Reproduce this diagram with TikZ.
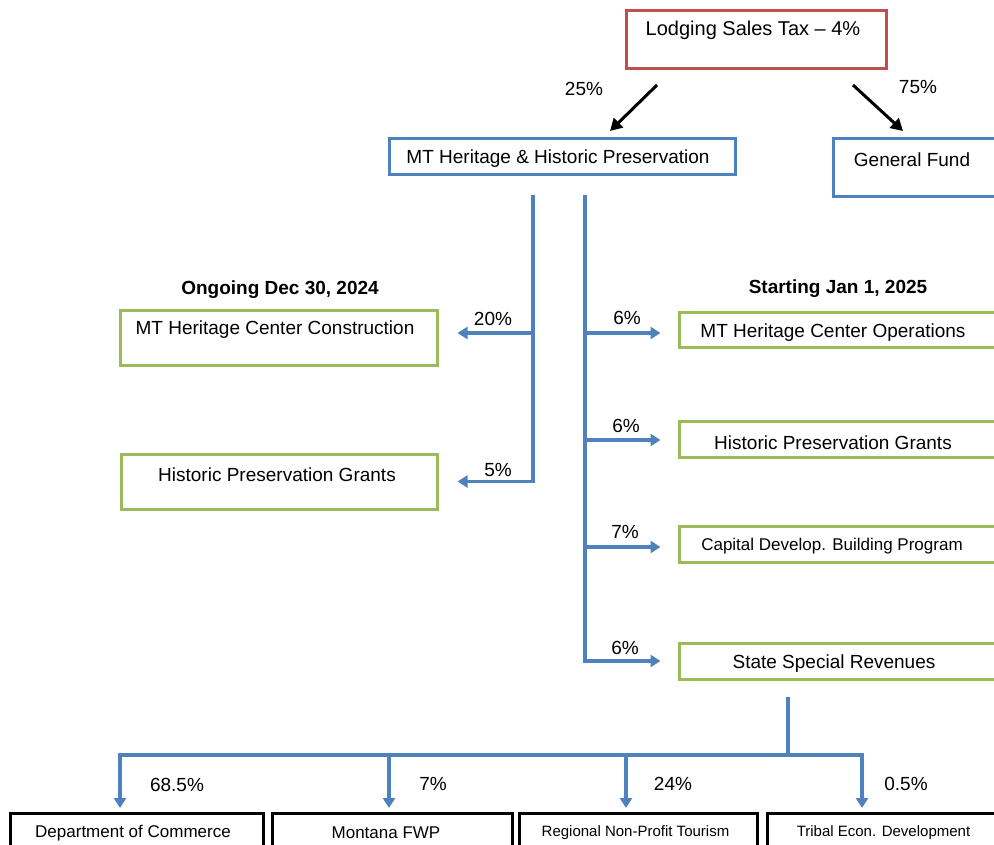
\documentclass[tikz,border=0pt]{standalone}
\usepackage{fontspec}
\setmainfont{Liberation Sans}
\usetikzlibrary{arrows.meta}
\definecolor{taxred}{RGB}{192,80,77}
\definecolor{fundblue}{RGB}{79,129,189}
\definecolor{usegreen}{RGB}{155,187,89}
\tikzset{
  redbox/.style={draw=taxred, line width=3pt, inner sep=0pt},
  bluebox/.style={draw=fundblue, line width=3pt, inner sep=0pt},
  greenbox/.style={draw=usegreen, line width=3pt, inner sep=0pt},
  blackbox/.style={draw=black, line width=3pt, inner sep=0pt},
  flow/.style={draw=fundblue, line width=3.2pt},
  flowarrow/.style={flow, -{Triangle[length=10pt,width=12pt]}},
  split/.style={draw=black, line width=3pt, -{Triangle[length=12pt,width=13pt]}},
  pct/.style={inner sep=0pt, font=\fontsize{19}{22}\selectfont},
  txt/.style={inner sep=0pt, yshift=-2.5pt, font=\fontsize{19}{22}\selectfont},
  small/.style={inner sep=0pt, yshift=-2pt, font=\fontsize{17}{20}\selectfont},
  tiny/.style={inner sep=0pt, yshift=-2pt, font=\fontsize{15}{18}\selectfont},
  head/.style={inner sep=0pt, yshift=-2.5pt, font=\bfseries\fontsize{19}{22}\selectfont}
}
\begin{document}
\begin{tikzpicture}[x=1pt, y=-1pt]
    \useasboundingbox (0, 0) rectangle (994, 844);
    \clip (0, 0) rectangle (994, 844);
    % tax and first split
    \node [redbox, minimum width=260pt, minimum height=58pt] (tax) at (756, 39) {};
    \node [txt, font=\fontsize{20}{23}\selectfont] (taxtext) at (753, 28) {Lodging Sales Tax – 4\%};
    \node [bluebox, minimum width=346pt, minimum height=36pt] (heritage) at (562, 156) {};
    \node [txt] (heritagetext) at (558, 156) {MT Heritage \& Historic Preservation};
    \node [bluebox, minimum width=200pt, minimum height=58pt] (fund) at (933, 167) {};
    \node [txt] (fundtext) at (912, 157) {General Fund};
    %
    \coordinate (s25a) at (657, 85);
    \coordinate (s25b) at (610, 131);
    \coordinate (s75a) at (853, 85);
    \coordinate (s75b) at (903, 131);
    \draw [split] (s25a) -- (s25b);
    \draw [split] (s75a) -- (s75b);
    \node [pct] (p25) at (584, 89) {25\%};
    \node [pct] (p75) at (918, 87) {75\%};
    % ongoing side
    \node [head] (ongoing) at (280, 287) {Ongoing Dec 30, 2024};
    \node [greenbox, minimum width=317pt, minimum height=55pt] (constr) at (278.5, 337.5) {};
    \node [txt] (constrtext) at (275, 327) {MT Heritage Center Construction};
    \node [greenbox, minimum width=316pt, minimum height=55pt] (grantsold) at (279, 481.5) {};
    \node [txt] (grantsoldtext) at (277, 472) {Historic Preservation Grants};
    %
    \coordinate (ltop) at (533, 195);
    \coordinate (l20) at (533, 333);
    \draw [flowarrow, shorten >=19pt] (ltop) |- (grantsold.east);
    \draw [flowarrow, shorten >=19pt] (l20) -- (l20 -| constr.east);
    \node [pct] (p20) at (493, 319) {20\%};
    \node [pct] (p5) at (498, 470) {5\%};
    % starting side
    \node [head] (starting) at (838, 286) {Starting Jan 1, 2025};
    \node [greenbox, minimum width=331pt, minimum height=35pt] (ops) at (844.5, 329.5) {};
    \node [txt] (opstext) at (833, 330) {MT Heritage Center Operations};
    \node [greenbox, minimum width=331pt, minimum height=36pt] (grantsnew) at (844.5, 439) {};
    \node [txt] (grantsnewtext) at (833, 440) {Historic Preservation Grants};
    \node [greenbox, minimum width=331pt, minimum height=36pt] (capital) at (844.5, 544) {};
    \node [txt, font=\fontsize{17}{20}\selectfont] (capitaltext) at (832, 544) {Capital Develop. Building Program};
    \node [greenbox, minimum width=331pt, minimum height=36pt] (special) at (844.5, 661) {};
    \node [txt] (specialtext) at (834, 661) {State Special Revenues};
    %
    \coordinate (rtop) at (585, 195);
    \coordinate (r1) at (585, 333);
    \coordinate (r2) at (585, 440);
    \coordinate (r3) at (585, 547);
    \draw [flowarrow, shorten >=17pt] (rtop) |- (special.west);
    \draw [flowarrow, shorten >=17pt] (r1) -- (r1 -| ops.west);
    \draw [flowarrow, shorten >=17pt] (r2) -- (r2 -| grantsnew.west);
    \draw [flowarrow, shorten >=17pt] (r3) -- (r3 -| capital.west);
    \node [pct] (p6a) at (627, 318) {6\%};
    \node [pct] (p6b) at (626, 426) {6\%};
    \node [pct] (p7a) at (625, 532) {7\%};
    \node [pct] (p6c) at (625, 648) {6\%};
    % special revenue split
    \node [blackbox, minimum width=253pt, minimum height=50pt] (commerce) at (136.5, 838) {};
    \node [small] (commercetext) at (133, 831) {Department of Commerce};
    \node [blackbox, minimum width=240pt, minimum height=50pt] (fwp) at (392, 838) {};
    \node [small] (fwptext) at (386, 831) {Montana FWP};
    \node [blackbox, minimum width=238pt, minimum height=50pt] (tourism) at (638.5, 838) {};
    \node [tiny] (tourismtext) at (635.5, 831) {Regional Non-Profit Tourism};
    \node [blackbox, minimum width=243pt, minimum height=50pt] (tribal) at (888.5, 838) {};
    \node [tiny] (tribaltext) at (883.5, 831) {Tribal Econ. Development};
    %
    \coordinate (btop) at (788, 697);
    \coordinate (bmid) at (788, 755);
    \coordinate (t1) at (120, 808);
    \coordinate (t2) at (389, 808);
    \coordinate (t3) at (626, 808);
    \coordinate (t4) at (862, 808);
    \draw [flow] (btop) -- (bmid);
    \draw [flowarrow] (bmid) -| (t1);
    \draw [flowarrow] (bmid) -| (t2);
    \draw [flowarrow] (bmid) -| (t3);
    \draw [flowarrow] (bmid) -| (t4);
    \node [pct] (p685) at (177, 785) {68.5\%};
    \node [pct] (p7b) at (433, 784) {7\%};
    \node [pct] (p24) at (673, 784) {24\%};
    \node [pct] (p05) at (906, 784) {0.5\%};
  \end{tikzpicture}
\end{document}
